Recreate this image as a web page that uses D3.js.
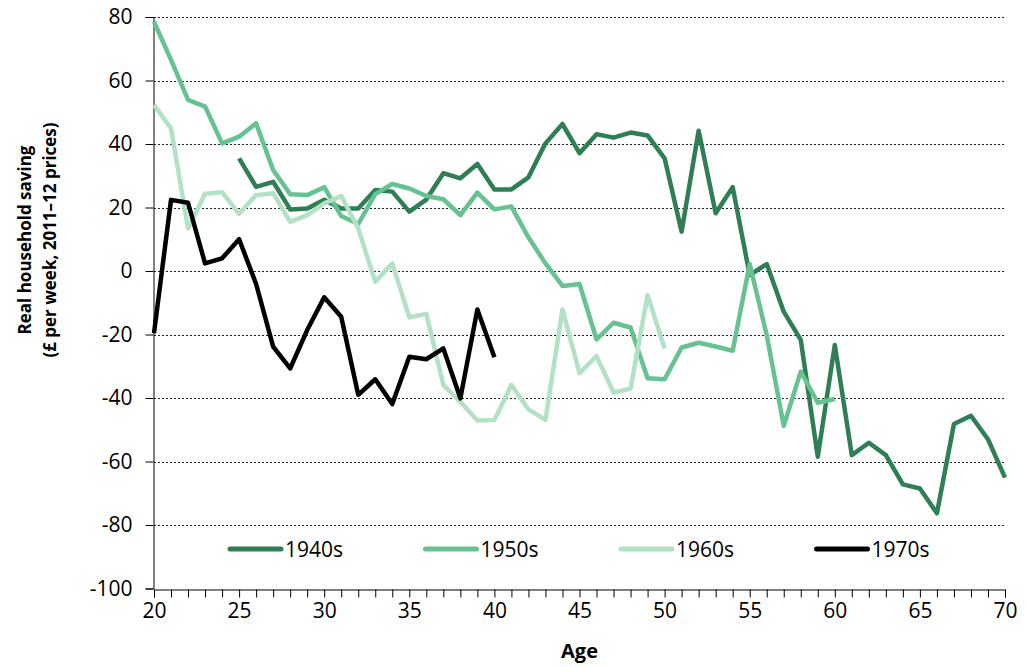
<!DOCTYPE html>
<html>
<head>
<meta charset="utf-8">
<script src="https://cdn.jsdelivr.net/npm/d3@7"></script>
<style>
  body { margin: 0; background: #fff; }
  text { font-family: "Open Sans", "Noto Sans", sans-serif; fill: #000; }
</style>
</head>
<body>
<div id="chart"></div>
<script>
// cohorts and their values
var cohorts = ["1940s", "1950s", "1960s", "1970s"];
var colours = ["#2f7e55", "#66c290", "#b2e1c6", "#000000"];
var startAge = [25, 20, 20, 20];

var saving1940s = [35.5, 26.5, 28.1, 19.4, 19.7, 22.4, 19.7, 19.7, 25.5, 25, 18.7, 22.5, 30.8, 29.2, 33.7, 25.7,
    25.7, 29.5, 40.2, 46.3, 37.1, 43.1, 42, 43.6, 42.7, 35.5, 12.4, 44.2, 18.2, 26.4, -1.3, 2.2, -12.8, -21.7,
    -58.5, -23.3, -58, -54.1, -58, -67.2, -68.5, -76.3, -48.2, -45.6, -53, -65.1];
var saving1950s = [78.5, 66.5, 53.9, 51.8, 40.2, 42.3, 46.5, 31.8, 24.2, 23.9, 26.4, 17.3, 14.8, 24.2, 27.4, 26,
    23.6, 22.6, 17.6, 24.7, 19.4, 20.3, 10.6, 2.4, -4.7, -4.1, -21.5, -16.3, -17.8, -33.8, -34.1, -24.1, -22.6,
    -23.8, -25.1, 2.2, -20.2, -48.8, -31.7, -41.5, -40.3];
var saving1960s = [52.3, 44.9, 13.4, 24.3, 24.8, 18, 23.9, 24.5, 15.5, 17.6, 21.3, 23.6, 13.4, -3.4, 2.4, -14.6,
    -13.5, -35.9, -41.2, -47.1, -46.9, -35.9, -43.6, -46.9, -12.1, -32.2, -26.8, -38.3, -37, -7.6, -24.4];
var saving1970s = [-19.6, 22.4, 21.5, 2.4, 4, 10, -4.1, -23.8, -30.7, -18.6, -8.3, -14.4, -39, -34.1, -41.9, -27,
    -27.8, -24.4, -40.1, -12.1, -27.2];

var yTicks = [80, 60, 40, 20, 0, -20, -40, -60, -80, -100];
var xLabels = [20, 25, 30, 35, 40, 45, 50, 55, 60, 65, 70];

var allSeries = [saving1940s, saving1950s, saving1960s, saving1970s];

var width = 1025, height = 667;

var x = d3.scaleLinear().domain([20, 70]).range([154, 1005]);
var y = d3.scaleLinear().domain([-100, 80]).range([588.5, 17]);

var svg = d3.select("#chart").append("svg")
    .attr("width", width)
    .attr("height", height);

// dotted gridlines
svg.append("g")
    .selectAll("line")
    .data(yTicks.filter(function(d) { return d > -100; }))
    .enter().append("line")
    .attr("x1", x(20))
    .attr("x2", x(70))
    .attr("y1", function(d) { return Math.round(y(d)) + 0.5; })
    .attr("y2", function(d) { return Math.round(y(d)) + 0.5; })
    .style("stroke", "#222")
    .style("stroke-width", 1)
    .style("stroke-dasharray", "2,2");

// y axis
var yAxis = d3.axisLeft(y)
    .tickValues(yTicks)
    .tickSize(8)
    .tickPadding(13)
    .tickFormat(function(d) { return d; });

var gy = svg.append("g")
    .attr("transform", "translate(" + (x(20) - 0.5) + ",0)")
    .call(yAxis);
gy.select(".domain").attr("stroke", "#000");
gy.selectAll(".tick line").attr("stroke", "#000");
gy.selectAll(".tick text")
    .style("font-size", "21px")
    .attr("fill", "#000");

// x axis, a tick at every year
var xAxis = d3.axisBottom(x)
    .tickValues(d3.range(20, 71))
    .tickSize(8)
    .tickPadding(6)
    .tickFormat(function(d) { return xLabels.indexOf(d) >= 0 ? d : ""; });

var gx = svg.append("g")
    .attr("transform", "translate(0," + (Math.round(y(-100)) + 0.5) + ")")
    .call(xAxis);
gx.select(".domain").attr("stroke", "#000");
gx.selectAll(".tick line").attr("stroke", "#000");
gx.selectAll(".tick text")
    .style("font-size", "21px")
    .attr("fill", "#000");

// lines
var line = d3.line()
    .x(function(d) { return x(d.age); })
    .y(function(d) { return y(d.value); });

allSeries.forEach(function(values, i) {
    var pts = values.map(function(v, j) { return {age: startAge[i] + j, value: v}; });
    svg.append("path")
        .datum(pts)
        .attr("d", line)
        .style("fill", "none")
        .style("stroke", colours[i])
        .style("stroke-width", 4.5)
        .style("stroke-linejoin", "round");
});

// legend
var legend = svg.append("g")
    .attr("transform", "translate(228,549)");

var item = legend.selectAll("g")
    .data(cohorts)
    .enter().append("g")
    .attr("transform", function(d, i) { return "translate(" + (i * 195.5) + ",0)"; });

item.append("line")
    .attr("x1", 2)
    .attr("x2", 53)
    .attr("y1", 0)
    .attr("y2", 0)
    .style("stroke", function(d, i) { return colours[i]; })
    .style("stroke-width", 5)
    .style("stroke-linecap", "round");

item.append("text")
    .attr("x", 57)
    .attr("y", 8)
    .style("font-size", "21px")
    .text(function(d) { return d; });

// axis titles
svg.append("text")
    .attr("x", x(45))
    .attr("y", 658)
    .attr("text-anchor", "middle")
    .style("font-size", "20px")
    .style("font-weight", "bold")
    .text("Age");

var yt = svg.append("text")
    .attr("transform", "translate(0,240) rotate(-90)")
    .attr("text-anchor", "middle")
    .style("font-size", "17px")
    .style("font-weight", "bold");
yt.append("tspan").attr("x", 0).attr("y", 31).text("Real household saving");
yt.append("tspan").attr("x", 0).attr("y", 56).text("(£ per week, 2011–12 prices)");
</script>
</body>
</html>
